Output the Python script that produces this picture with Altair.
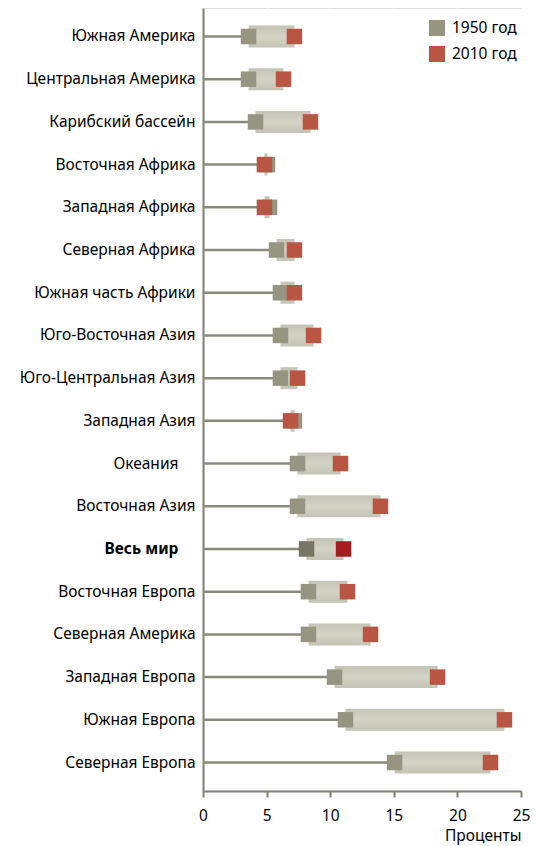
import altair as alt
import pandas as pd

regions = [
    "Южная Америка", "Центральная Америка", "Карибский бассейн",
    "Восточная Африка", "Западная Африка", "Северная Африка",
    "Южная часть Африки", "Юго-Восточная Азия", "Юго-Центральная Азия",
    "Западная Азия", "Океания", "Восточная Азия", "Весь мир",
    "Восточная Европа", "Северная Америка", "Западная Европа",
    "Южная Европа", "Северная Европа",
]
v1950 = [3.58, 3.58, 4.13, 5.07, 5.23, 5.78, 6.09, 6.09, 6.09, 7.19,
         7.43, 7.43, 8.14, 8.29, 8.29, 10.34, 11.20, 15.06]
v2010 = [7.19, 6.33, 8.45, 4.83, 4.83, 7.19, 7.19, 8.69, 7.43, 6.88,
         10.81, 13.95, 11.05, 11.36, 13.17, 18.44, 23.70, 22.60]
series = ["1950 год", "2010 год"]
x_ticks = [0, 5, 10, 15, 20, 25]
WORLD = "Весь мир"
INDENTED = ["Океания", "Весь мир"]

FONT = "Noto Sans"
FS = 15.5
BG = "#f0f0e7"
AXIS_C = "#7f7f72"
GRAY = "#959582"
RED = "#b85543"
WGRAY = "#767663"
WRED = "#a51c21"
STEM = "#8a8a7b"

wide = pd.DataFrame({"region": regions, "v1950": v1950, "v2010": v2010})
long = pd.concat([
    pd.DataFrame({"region": regions, "value": v1950, "series": series[0]}),
    pd.DataFrame({"region": regions, "value": v2010, "series": series[1]}),
], ignore_index=True)

x_axis = alt.Axis(
    values=x_ticks, title="Проценты", titleAnchor="end", grid=True,
    gridColor="white", gridWidth=2, domainColor=AXIS_C, domainWidth=2,
    tickColor=AXIS_C, tickWidth=2, tickSize=6, labelFont=FONT,
    labelFontSize=FS, labelColor="black", labelPadding=11, labelFlush=False,
    titleFont=FONT, titleFontSize=FS, titleFontWeight="normal",
    titleColor="black", titlePadding=5,
)
x_scale = alt.Scale(domain=[0, 25], nice=False)
indent_test = " || ".join(f"datum.value == '{r}'" for r in INDENTED)
pad = "\u2002\u2002\u200a\u200b"
y_enc = alt.Y(
    "region:N", sort=regions,
    scale=alt.Scale(type="band", paddingInner=0, paddingOuter=0.167),
    axis=alt.Axis(
        title=None, ticks=False, grid=False, domainColor=AXIS_C,
        domainWidth=2, labelFont=FONT, labelFontSize=FS, labelColor="black",
        labelPadding=8, minExtent=195, maxExtent=195, labelLimit=220,
        labelExpr=f"({indent_test}) ? datum.value + '{pad}' : datum.value",
        labelFontWeight={"condition": {"test": f"datum.value == '{WORLD}'",
                                        "value": "bold"},
                         "value": "normal"},
    ),
)

stem = alt.Chart(wide).mark_rule(color=STEM, strokeWidth=2.5).encode(
    x=alt.X("v1950:Q", scale=x_scale, axis=x_axis),
    x2=alt.datum(0),
    y=y_enc,
)

grad = alt.LinearGradient(
    gradient="linear",
    stops=[alt.GradientStop(color="#c4c4b6", offset=0),
           alt.GradientStop(color="#d3d3c6", offset=0.5),
           alt.GradientStop(color="#c4c4b6", offset=1)],
    x1=0, x2=0, y1=0, y2=1,
)
span = alt.Chart(wide).mark_bar(size=22, color=grad).encode(
    x=alt.X("v1950:Q", scale=x_scale, axis=x_axis),
    x2="v2010:Q",
    y=y_enc,
)

markers = alt.Chart(long).mark_square(size=240, opacity=1, filled=True).encode(
    x=alt.X("value:Q", scale=x_scale, axis=x_axis),
    y=y_enc,
    color=alt.Color(
        "series:N",
        scale=alt.Scale(domain=series, range=[GRAY, RED]),
        legend=alt.Legend(
            title=None, orient="none", legendX=226, legendY=12,
            symbolType="square", symbolSize=256, symbolStrokeWidth=0,
            symbolOpacity=1, labelFont=FONT, labelFontSize=FS,
            labelColor="black", labelOffset=7, rowPadding=9, padding=0,
        ),
        condition=[
            {"test": f"datum.region == '{WORLD}' && datum.series == '{series[0]}'",
             "value": WGRAY},
            {"test": f"datum.region == '{WORLD}' && datum.series == '{series[1]}'",
             "value": WRED},
        ],
    ),
)

chart = alt.layer(stem, span, markers).properties(
    width=318, height=783,
    padding={"left": 0, "top": 0, "right": 0, "bottom": 5},
).configure_view(fill=BG, stroke=None).configure(background="white")

chart.save("out.html", embed_options={"renderer": "svg", "actions": False})
